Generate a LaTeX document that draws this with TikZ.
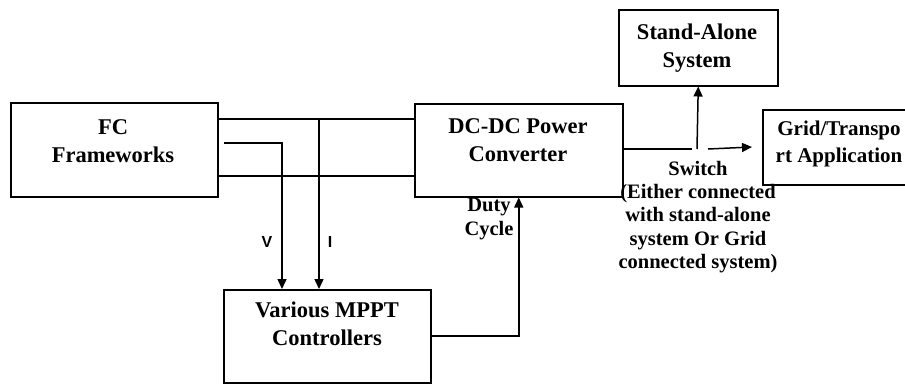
\documentclass[tikz,border=0pt]{standalone}
\usepackage{fontspec}
\setmainfont{Liberation Serif}
\newfontfamily\sansf{Liberation Sans}
\usetikzlibrary{arrows.meta,calc}
\begin{document}
\begin{tikzpicture}[x=1pt,y=-1pt,
  box/.style={draw,line width=1.5pt,rectangle,inner sep=0pt,anchor=north west},
  txt/.style={align=center,font=\fontsize{22.5}{28.5}\selectfont\bfseries,inner sep=0pt},
  small/.style={align=center,font=\fontsize{20.5}{23.2}\selectfont\bfseries,inner sep=0pt},
  lab/.style={font=\sansf\bfseries\fontsize{16}{18}\selectfont,inner sep=0pt},
  wire/.style={line width=1.5pt},
  arr/.style={line width=1.5pt,-{Triangle[length=10pt,width=9pt]}}]
\useasboundingbox (0,0) rectangle (905,383);
% boxes
\node[box,minimum width=207pt,minimum height=94pt] (fc) at (10,102) {};
\node[box,minimum width=208pt,minimum height=93pt] (dc) at (414,103) {};
\node[box,minimum width=159pt,minimum height=76pt] (sa) at (618,9) {};
\node[box,minimum width=152pt,minimum height=75pt] (grid) at (762,109) {};
\node[box,minimum width=207pt,minimum height=93pt] (mppt) at (223,289) {};
% texts
\node[txt] (fct) at (113,141) {FC\\Frameworks};
\node[txt] (dct) at (518,140) {DC-DC Power\\Converter};
\node[txt] (sat) at (697,48) {Stand-Alone\\System};
\node[txt,font=\fontsize{21}{27}\selectfont\bfseries] (gridt) at (839,144) {Grid/Transpo\\rt Application};
\node[txt] (mpptt) at (327,324) {Various MPPT\\Controllers};
\node[small] (sw) at (698,217) {Switch\\(Either connected\\with stand-alone\\system Or Grid\\connected system)};
\node[small] (duty) at (489,219) {Duty\\Cycle};
\node[lab] (vl) at (267,242) {V};
\node[lab] (il) at (330,242) {I};
% coordinates
\coordinate (ytop) at (0,119);
\coordinate (ybot) at (0,176);
\coordinate (ympt) at (0,336);
\coordinate (vstart) at (224,143);
\coordinate (istart) at (319,119);
\coordinate (swend) at (692,149);
\coordinate (swup) at (697,149);
\coordinate (swblade) at (708,149);
\coordinate (swtip) at (752,147);
% wires
\draw[wire] (fc.east|-ytop) -- (dc.west|-ytop);
\draw[wire] (fc.east|-ybot) -- (dc.west|-ybot);
\draw[arr] (vstart) -| ([xshift=59pt]mppt.north west);
\draw[arr] (istart) -- (istart|-mppt.north);
\draw[arr] (mppt.east|-ympt) -| (dc.south);
\draw[wire] (dc.east|-swend) -- (swend);
\draw[arr] (swup) -- (sa.south);
\draw[arr] (swblade) -- (swtip);
\end{tikzpicture}
\end{document}
